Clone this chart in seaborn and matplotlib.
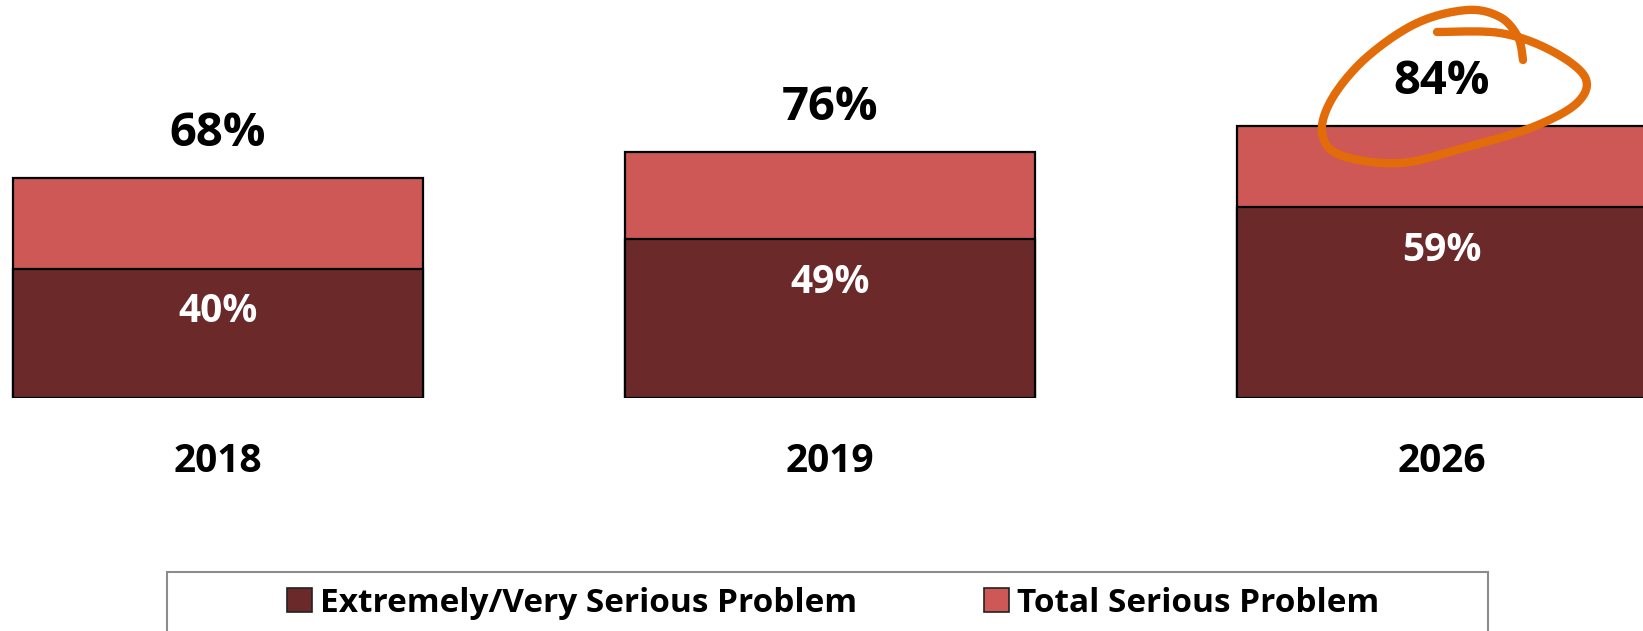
import numpy as np
import matplotlib
matplotlib.use("Agg")
import matplotlib.pyplot as plt
from matplotlib.patches import Patch, Rectangle
import seaborn as sns

# data
years = ["2018", "2019", "2026"]
total_serious = [68, 76, 84]
extreme_serious = [40, 49, 59]
series_names = ["Extremely/Very Serious Problem", "Total Serious Problem"]

DARK = "#6B2929"
LIGHT = "#CD5855"
ORANGE = "#E36C0A"
W, H = 1643, 631

sns.set_style("white")
plt.rcParams["font.family"] = ["Open Sans", "DejaVu Sans"]

fig = plt.figure(figsize=(W / 100, H / 100), dpi=100)
ax = fig.add_axes([0, (H - 398) / H, 1, 398 / H])

# back bar = total, front bar = extremely/very
sns.barplot(x=years, y=total_serious, color=LIGHT, saturation=1,
            edgecolor="black", linewidth=1.6, width=0.67, ax=ax)
sns.barplot(x=years, y=extreme_serious, color=DARK, saturation=1,
            edgecolor="black", linewidth=1.6, width=0.67, ax=ax)

ax.set_xlim(-218 / 612, (W - 218) / 612)
ax.set_ylim(0, 398 / 3.235)
sns.despine(ax=ax, left=True, bottom=True)
ax.set_yticks([])
ax.set_xlabel("")
ax.set_ylabel("")
ax.tick_params(axis="x", length=0, pad=32, labelsize=28, labelcolor="black")
for t in ax.get_xticklabels():
    t.set_fontweight("bold")

# value labels
for i, (tot, ext) in enumerate(zip(total_serious, extreme_serious)):
    ax.annotate(f"{tot}%", (i, tot), xytext=(0, 32), textcoords="offset points",
                ha="center", va="center", fontsize=34, fontweight="bold", color="black")
    ax.annotate(f"{ext}%", (i, ext), xytext=(0, -31), textcoords="offset points",
                ha="center", va="center", fontsize=28, fontweight="bold", color="white")

# legend box (bottom clipped by figure edge, as in the original)
fig.patches.append(Rectangle((167 / W, -0.05), (1488 - 167) / W, (H - 572) / H + 0.05,
                             transform=fig.transFigure, facecolor="white",
                             edgecolor="#8C8C8C", linewidth=1.5, zorder=0))
handles = [Patch(facecolor=DARK, edgecolor="#222222", linewidth=1.2),
           Patch(facecolor=LIGHT, edgecolor="#222222", linewidth=1.2)]
fig.legend(handles, series_names, loc="center", bbox_to_anchor=(833 / W, (H - 603) / H),
           ncol=2, frameon=False, handlelength=0.75, handleheight=0.75,
           handletextpad=0.25, columnspacing=3.8, labelcolor="black",
           prop={"family": ["Open Sans", "DejaVu Sans"], "weight": "bold", "size": 24})

# hand-drawn orange loop around the 84% label (pixel offsets from label centre)
over = fig.add_axes([0, 0, 1, 1])
over.set_xlim(0, W)
over.set_ylim(H, 0)
over.axis("off")
cx, cy = 1440, 80
loop = np.array([(-3, -48), (60, -47), (110, -30), (145, -3), (137, 23), (93, 47),
                 (27, 67), (-40, 83), (-100, 75), (-118, 52), (-107, 17), (-73, -23),
                 (-23, -57), (27, -70), (60, -63), (78, -43), (83, -20)], float)
# catmull-rom smoothing
pts = np.vstack([loop[0], loop, loop[-1]])
curve = []
for k in range(1, len(pts) - 2):
    p0, p1, p2, p3 = pts[k - 1], pts[k], pts[k + 1], pts[k + 2]
    for t in np.linspace(0, 1, 12, endpoint=False):
        curve.append(0.5 * ((2 * p1) + (-p0 + p2) * t + (2 * p0 - 5 * p1 + 4 * p2 - p3) * t ** 2
                            + (-p0 + 3 * p1 - 3 * p2 + p3) * t ** 3))
curve.append(loop[-1])
curve = np.array(curve)
over.plot(curve[:, 0] + cx, curve[:, 1] + cy, color=ORANGE, linewidth=6,
          solid_capstyle="round", solid_joinstyle="round")

fig.savefig("out.png", dpi=100, facecolor="white")
